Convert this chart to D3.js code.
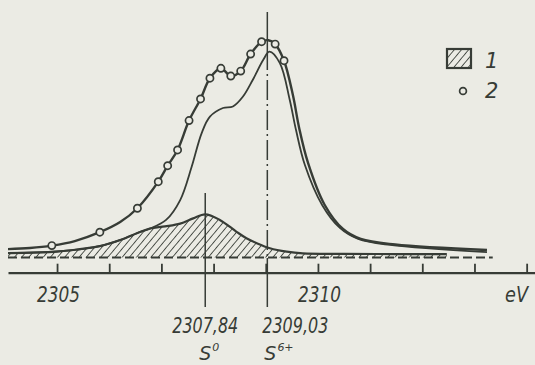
<!DOCTYPE html>
<html>
<head>
<meta charset="utf-8">
<script src="https://cdn.jsdelivr.net/npm/d3@7"></script>
<style>
  html, body { margin: 0; padding: 0; background: #ebebe4; }
  svg { display: block; }
  text { font-family: "DejaVu Sans", sans-serif; font-style: italic; fill: #373c36; }
</style>
</head>
<body>
<svg id="chart" width="535" height="365"></svg>
<script>
// Sulfur K-edge XANES spectrum, energies in eV, intensity in relative units

// S0 component (hatched, legend "1")
const compEnergy = [2304.06, 2305.0, 2305.44, 2305.82, 2306.21, 2306.59, 2306.78, 2307.07, 2307.36, 2307.61, 2307.84,
                    2308.12, 2308.44, 2308.63, 2308.83, 2309.08, 2309.40, 2309.71, 2310.5, 2311.5, 2312.47];
const compValue  = [2.0, 2.7, 3.9, 5.3, 8.1, 11.8, 13.4, 14.4, 15.7, 18.1, 20.0,
                    17.4, 11.9, 8.9, 6.6, 4.3, 2.7, 1.9, 1.7, 1.6, 1.6];

// calculated total curve (thin line)
const sumEnergy = [2304.06, 2305.0, 2305.82, 2306.21, 2306.59, 2306.78, 2307.09, 2307.36, 2307.58, 2307.77, 2307.93,
                   2308.18, 2308.37, 2308.56, 2308.75, 2308.95, 2309.07, 2309.27, 2309.46, 2309.58, 2309.75,
                   2310.08, 2310.42, 2310.77, 2311.38, 2313.24];
const sumValue  = [2.1, 2.8, 5.3, 8.1, 11.8, 13.4, 17.4, 26.6, 42.0, 57.5, 65.2,
                   69.2, 69.9, 74.4, 82.2, 91.4, 95.3, 90.0, 72.9, 59.0, 42.8,
                   24.3, 13.7, 8.6, 5.8, 2.5];

// measured spectrum (legend "2"): points and the line drawn through them
const expEnergy = [2304.90, 2305.82, 2306.54, 2306.94, 2307.12, 2307.31, 2307.53, 2307.75, 2307.93, 2308.14,
                   2308.33, 2308.52, 2308.71, 2308.92, 2309.18, 2309.35];
const expValue  = [5.5, 11.7, 22.8, 35.1, 42.5, 49.8, 63.4, 73.4, 83.0, 87.6,
                   84.0, 86.3, 94.2, 99.9, 98.8, 91.1];
const expLineEnergy = [2304.06, 2304.48, 2304.90, 2305.34, 2305.82, 2306.21, 2306.54, 2306.94, 2307.12, 2307.31,
                       2307.53, 2307.75, 2307.93, 2308.14, 2308.33, 2308.52, 2308.71, 2308.92, 2309.05, 2309.18,
                       2309.35, 2309.52, 2309.64, 2309.81, 2310.13, 2310.48, 2310.82, 2311.48, 2313.24];
const expLineValue  = [3.9, 4.4, 5.5, 7.6, 11.7, 16.4, 22.8, 35.1, 42.5, 49.8,
                       63.4, 73.4, 83.0, 87.6, 84.0, 86.3, 94.2, 99.9, 100.6, 98.8,
                       91.1, 75.2, 60.0, 43.8, 24.3, 13.2, 8.6, 6.0, 3.5];

// axis ticks and labels
const tickEnergies = [2305, 2306, 2307, 2308, 2309, 2310, 2311, 2312, 2313, 2314];
const labelEnergies = [2305, 2310];
const labelTexts = ["2305", "2310"];

// marked peak positions
const peakEnergies = [2307.84, 2309.03];
const peakTexts = ["2307,84", "2309,03"];
const peakCharges = ["0", "6+"];

const ink = "#373c36";
const bg = "#ebebe4";

const svg = d3.select("#chart");
const x = d3.scaleLinear().domain([2304.06, 2314.16]).range([8, 535]);
const y = d3.scaleLinear().domain([0, 100]).range([257.5, 41.5]);

// hatch pattern
const defs = svg.append("defs");
const pat = defs.append("pattern")
  .attr("id", "hatch").attr("patternUnits", "userSpaceOnUse")
  .attr("width", 5.5).attr("height", 5.5)
  .attr("patternTransform", "rotate(40)");
pat.append("line").attr("x1", 0).attr("y1", 0).attr("x2", 0).attr("y2", 5.5)
  .attr("stroke", ink).attr("stroke-width", 1.7);

const comp = compEnergy.map((e, i) => [e, compValue[i]]);
const sum = sumEnergy.map((e, i) => [e, sumValue[i]]);
const expLine = expLineEnergy.map((e, i) => [e, expLineValue[i]]);
const expPts = expEnergy.map((e, i) => [e, expValue[i]]);

const curve = d3.curveCatmullRom.alpha(0.5);
const area = d3.area().x(d => x(d[0])).y0(y(0)).y1(d => y(d[1])).curve(curve);
const line = d3.line().x(d => x(d[0])).y(d => y(d[1])).curve(curve);

// baseline
svg.append("line")
  .attr("x1", x(2304.06)).attr("x2", x(2313.35))
  .attr("y1", y(0)).attr("y2", y(0))
  .attr("stroke", ink).attr("stroke-width", 2)
  .attr("stroke-dasharray", "9,4");

// S0 component
svg.append("path").datum(comp).attr("d", area)
  .attr("fill", "url(#hatch)").attr("stroke", "none");
svg.append("path").datum(comp).attr("d", line)
  .attr("fill", "none").attr("stroke", ink).attr("stroke-width", 2.2);

// peak marker lines
const p0 = x(peakEnergies[0]);
svg.append("line").attr("x1", p0).attr("x2", p0).attr("y1", 193).attr("y2", 307)
  .attr("stroke", ink).attr("stroke-width", 1.5);
const p1 = x(peakEnergies[1]);
svg.append("line").attr("x1", p1).attr("x2", p1).attr("y1", 12).attr("y2", 50)
  .attr("stroke", ink).attr("stroke-width", 1.5);
svg.append("line").attr("x1", p1).attr("x2", p1).attr("y1", 50).attr("y2", 258)
  .attr("stroke", ink).attr("stroke-width", 1.5).attr("stroke-dasharray", "20,4,2,4");
svg.append("line").attr("x1", p1).attr("x2", p1).attr("y1", 258).attr("y2", 307)
  .attr("stroke", ink).attr("stroke-width", 1.5);

// total curve
svg.append("path").datum(sum).attr("d", line)
  .attr("fill", "none").attr("stroke", ink).attr("stroke-width", 1.8);

// measured curve
svg.append("path").datum(expLine).attr("d", line)
  .attr("fill", "none").attr("stroke", ink).attr("stroke-width", 2.4);
svg.append("g").selectAll("circle").data(expPts).join("circle")
  .attr("cx", d => x(d[0])).attr("cy", d => y(d[1])).attr("r", 3.6)
  .attr("fill", bg).attr("stroke", ink).attr("stroke-width", 1.7);

// energy axis
const axis = d3.axisBottom(x).tickValues(tickEnergies).tickSizeInner(-9).tickSizeOuter(0).tickFormat("");
const gAxis = svg.append("g").attr("transform", "translate(0,272.7)").call(axis);
gAxis.select(".domain").attr("stroke", ink).attr("stroke-width", 2.2);
gAxis.selectAll(".tick line").attr("stroke", ink).attr("stroke-width", 1.8);

svg.append("g").selectAll("text").data(labelEnergies).join("text")
  .attr("x", d => x(d) - 20).attr("y", 302)
  .attr("textLength", 43).attr("lengthAdjust", "spacingAndGlyphs")
  .attr("font-size", 21)
  .text((d, i) => labelTexts[i]);

svg.append("text").attr("x", 505).attr("y", 302)
  .attr("textLength", 23).attr("lengthAdjust", "spacingAndGlyphs")
  .attr("font-size", 21).text("eV");

// peak labels
svg.append("text").attr("x", x(peakEnergies[0]) - 33).attr("y", 333)
  .attr("textLength", 66).attr("lengthAdjust", "spacingAndGlyphs")
  .attr("font-size", 21).text(peakTexts[0]);
svg.append("text").attr("x", x(peakEnergies[1]) - 5).attr("y", 333)
  .attr("textLength", 66).attr("lengthAdjust", "spacingAndGlyphs")
  .attr("font-size", 21).text(peakTexts[1]);

peakEnergies.forEach((e, i) => {
  const t = svg.append("text").attr("x", x(e) - (i === 0 ? 6 : 3)).attr("y", 360).attr("font-size", 19);
  t.append("tspan").text("S");
  t.append("tspan").attr("font-size", 11).attr("dy", -9).attr("dx", 1).text(peakCharges[i]);
});

// legend
svg.append("rect").attr("x", 447).attr("y", 49).attr("width", 24).attr("height", 19)
  .attr("fill", "url(#hatch)").attr("stroke", ink).attr("stroke-width", 2.2);
svg.append("text").attr("x", 485).attr("y", 68).attr("font-size", 21).text("1");
svg.append("circle").attr("cx", 463).attr("cy", 91).attr("r", 3.4)
  .attr("fill", bg).attr("stroke", ink).attr("stroke-width", 1.7);
svg.append("text").attr("x", 485).attr("y", 98).attr("font-size", 21).text("2");
</script>
</body>
</html>
